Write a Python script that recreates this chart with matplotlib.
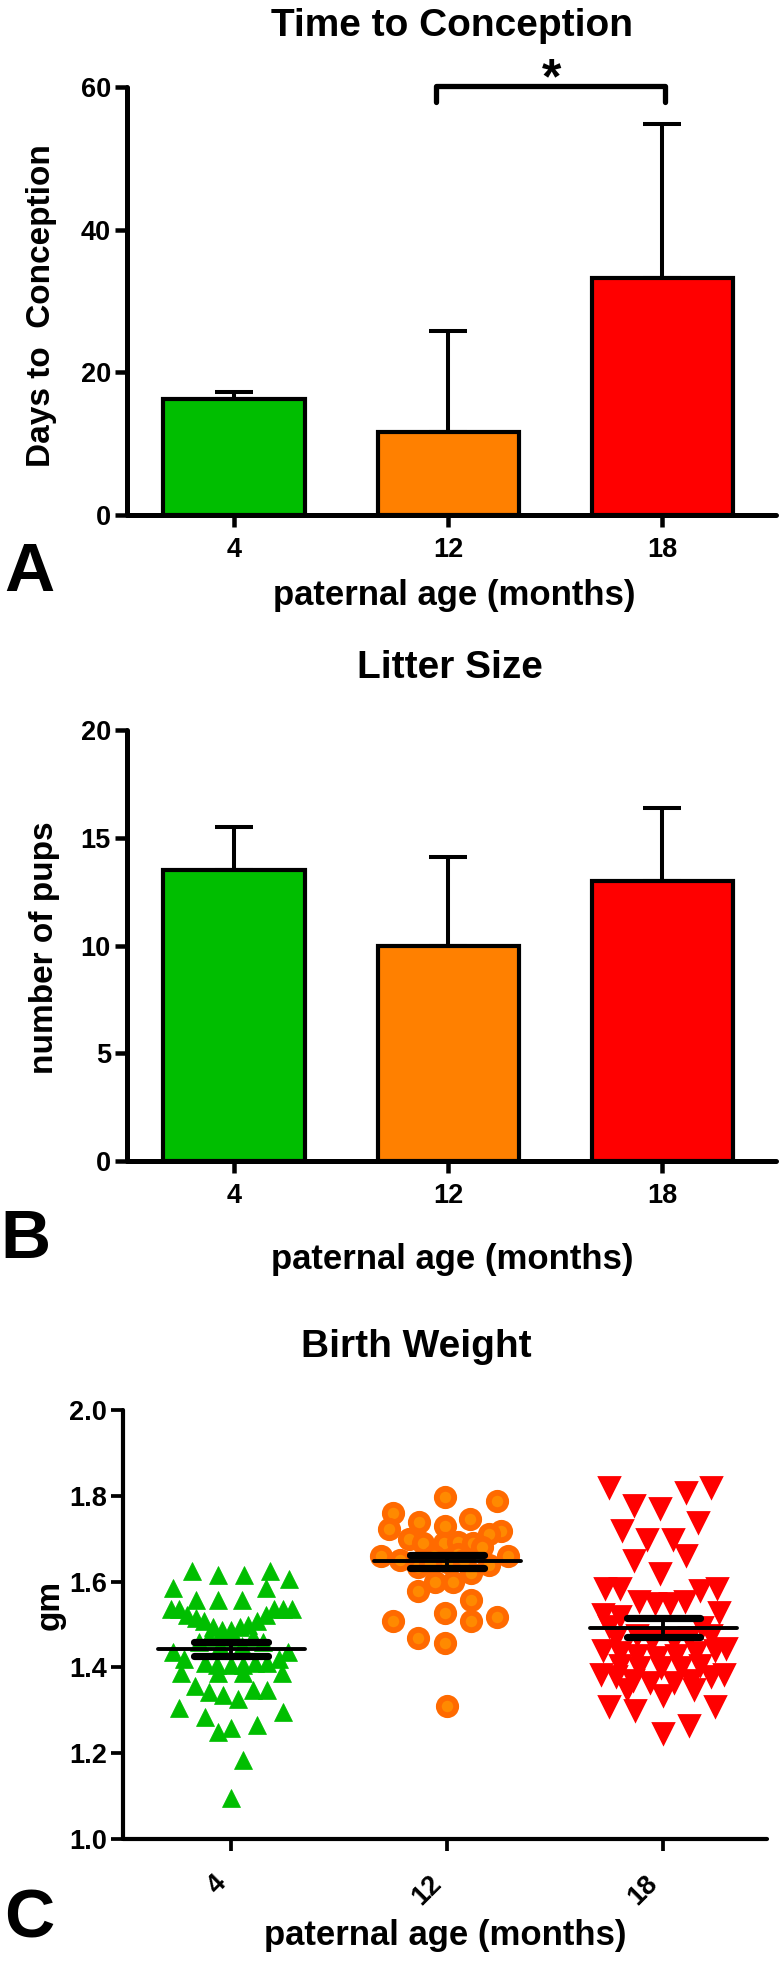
import matplotlib
matplotlib.use("Agg")
import matplotlib.pyplot as plt
import numpy as np

plt.rcParams['font.family'] = ['Liberation Sans', 'DejaVu Sans']
plt.rcParams['font.weight'] = 'bold'

# ---------------- data ----------------
categories = ["4", "12", "18"]
colors = ["#00BE00", "#FF8000", "#FF0000"]

# Panel A: time to conception (mean, upper SD)
ttc_mean = [16.3, 11.6, 33.2]
ttc_err = [0.9, 14.2, 21.6]

# Panel B: litter size
litter_mean = [13.5, 10.0, 13.0]
litter_err = [2.0, 4.1, 3.4]

# Panel C: birth weight (offset within category, value)
bw4_off = [-0.18, -0.06, 0.06, 0.18, 0.27, -0.27, 0.16, -0.16, -0.06, 0.05,
           -0.28, -0.24, 0.20, 0.24, 0.28, -0.205, -0.16, -0.125, -0.085, -0.043,
           0.0, 0.04, 0.08, 0.12, 0.16, -0.10, 0.0, 0.10, -0.05, 0.05,
           0.15, -0.15, -0.27, 0.265, -0.22, -0.12, -0.066, 0.0, 0.057, 0.11,
           0.165, 0.22, -0.23, -0.06, 0.057, 0.235, -0.167, -0.10, -0.036, 0.034,
           0.10, 0.165, -0.24, -0.12, 0.24, -0.06, 0.0, 0.12, 0.057, 0.0]
bw4_val = [1.625, 1.615, 1.615, 1.625, 1.606, 1.584, 1.584, 1.557, 1.556, 1.557,
           1.535, 1.535, 1.535, 1.535, 1.535, 1.522, 1.515, 1.507, 1.495, 1.487,
           1.487, 1.495, 1.500, 1.507, 1.522, 1.470, 1.470, 1.470, 1.450, 1.450,
           1.460, 1.460, 1.437, 1.437, 1.420, 1.410, 1.405, 1.405, 1.405, 1.410,
           1.410, 1.420, 1.386, 1.386, 1.386, 1.386, 1.357, 1.343, 1.336, 1.326,
           1.347, 1.347, 1.305, 1.285, 1.297, 1.250, 1.258, 1.266, 1.184, 1.095]

bw12_off = [-0.01, 0.23, -0.25, -0.13, 0.105, -0.01, -0.27, 0.25, 0.195, -0.176,
            -0.11, -0.014, 0.048, 0.12, -0.307, -0.22, 0.28, 0.195, -0.137, 0.11,
            -0.056, 0.028, -0.133, 0.11, -0.01, -0.25, 0.11, 0.23, -0.133, -0.01,
            0.0, -0.06, 0.05, 0.0, -0.08, 0.08, 0.16]
bw12_val = [1.798, 1.788, 1.759, 1.740, 1.747, 1.730, 1.722, 1.718, 1.711, 1.699,
            1.690, 1.690, 1.693, 1.690, 1.660, 1.650, 1.660, 1.639, 1.635, 1.619,
            1.600, 1.600, 1.579, 1.557, 1.527, 1.509, 1.507, 1.517, 1.468, 1.457,
            1.310, 1.660, 1.665, 1.645, 1.640, 1.650, 1.680]

bw18_off = [-0.253, 0.222, 0.105, -0.134, -0.014, 0.163, -0.19, -0.075, 0.045, 0.105,
            -0.134, -0.014,
            -0.27, -0.20, 0.17, 0.25, -0.11, -0.04, 0.03, 0.10,
            0.26, -0.28, -0.20, 0.18, -0.25,
            -0.22, -0.12, -0.05, 0.05, 0.12, 0.22,
            -0.28, -0.20, -0.12, -0.03, 0.06, 0.15, 0.24, 0.29,
            -0.20, -0.11, -0.01, 0.08, 0.17,
            -0.29, -0.22, -0.14, -0.06, 0.05, 0.13, 0.22, 0.28,
            -0.17, 0.0, 0.14, -0.25, -0.13, 0.24, 0.12, 0.0]
bw18_val = [1.821, 1.821, 1.810, 1.779, 1.771, 1.740, 1.720, 1.700, 1.700, 1.662,
            1.650, 1.619,
            1.585, 1.585, 1.580, 1.585, 1.555, 1.550, 1.550, 1.555,
            1.530, 1.525, 1.520, 1.495, 1.497,
            1.470, 1.475, 1.465, 1.465, 1.470, 1.475,
            1.440, 1.435, 1.430, 1.425, 1.430, 1.435, 1.440, 1.445,
            1.405, 1.400, 1.400, 1.400, 1.405,
            1.385, 1.380, 1.370, 1.365, 1.365, 1.370, 1.380, 1.385,
            1.350, 1.335, 1.350, 1.310, 1.300, 1.310, 1.265, 1.246]

bw_mean = [1.443, 1.647, 1.493]
bw_sem = [0.017, 0.016, 0.021]

# ---------------- figure ----------------
W, H = 780, 1962
fig = plt.figure(figsize=(W / 100, H / 100), dpi=100)


def ax_px(left, right, top, bottom):
    return fig.add_axes([left / W, 1 - bottom / H, (right - left) / W, (bottom - top) / H])


def txt(x, y, s, size, rot=0, ha='center', va='center'):
    fig.text(x / W, 1 - y / H, s, fontsize=size, fontweight='bold', rotation=rot,
             ha=ha, va=va, color='black')


def style(ax, lw=3.6):
    for s in ['top', 'right']:
        ax.spines[s].set_visible(False)
    for s in ['left', 'bottom']:
        ax.spines[s].set_linewidth(lw)
        ax.spines[s].set_capstyle('round')
    ax.tick_params(axis='both', length=8.6, width=lw * 0.9, labelsize=19.5)
    ax.tick_params(axis='y', pad=3)
    ax.tick_params(axis='x', pad=7)
    for lab in ax.get_xticklabels() + ax.get_yticklabels():
        lab.set_fontweight('bold')


x = np.arange(len(categories))


def bar_panel(ax, means, errs, ymax, step):
    ax.bar(x, means, width=0.66, color=colors, edgecolor='black', linewidth=3.0, zorder=2)
    ax.errorbar(x, means, yerr=[np.zeros(len(errs)), errs], fmt='none', ecolor='black',
                elinewidth=2.9, capsize=14, capthick=2.9, zorder=1)
    ax.set_xlim(-0.5, 2.53)
    ax.set_ylim(0, ymax)
    ax.set_yticks(np.arange(0, ymax + 0.1, step))
    ax.set_xticks(x)
    ax.set_xticklabels(categories)
    style(ax)


# Panel A
axA = ax_px(127, 776, 87, 515)
bar_panel(axA, ttc_mean, ttc_err, 60, 20)
axA.plot([0.944, 0.944, 2.01, 2.01], [57.9, 60.2, 60.2, 57.9], color='black', lw=3.8,
         solid_capstyle='round', solid_joinstyle='round', clip_on=False)
axA.text(1.48, 61.0, '*', fontsize=36, fontweight='bold', ha='center', va='center')
txt(452, 26, 'Time to Conception', 28)
txt(42, 306, 'Days to  Conception', 24, rot=90)
txt(454, 596, 'paternal age (months)', 25)
txt(29, 573, 'A', 50)

# Panel B
axB = ax_px(127, 776, 730, 1161)
bar_panel(axB, litter_mean, litter_err, 20, 5)
txt(450, 668, 'Litter Size', 28)
txt(45, 948, 'number of pups', 24, rot=90)
txt(452, 1260, 'paternal age (months)', 25)
txt(25, 1240, 'B', 50)

# Panel C
axC = ax_px(123, 767, 1410, 1839)
axC.plot(0 + np.array(bw4_off), bw4_val, linestyle='none', marker='^', ms=12.5,
         color='#00BE00', mec='#00BE00', mew=0.5, zorder=2)
axC.plot(1 + np.array(bw12_off), bw12_val, linestyle='none', marker='o', ms=12.5,
         mfc='#FF8A00', mec='#FF6A00', mew=4.2, zorder=2)
axC.plot(2 + np.array(bw18_off), bw18_val, linestyle='none', marker='v', ms=14.5,
         color='#FF0000', mec='#FF0000', mew=2.0, zorder=2)
for i in range(3):
    m, s = bw_mean[i], bw_sem[i]
    axC.plot([i - 0.34, i + 0.34], [m, m], color='black', lw=2.8, solid_capstyle='round', zorder=4)
    for v in (m - s, m + s):
        axC.plot([i - 0.17, i + 0.17], [v, v], color='black', lw=5.2, solid_capstyle='round', zorder=4)
    axC.plot([i, i], [m - s, m + s], color='black', lw=2.8, zorder=4)
axC.set_xlim(-0.5, 2.48)
axC.set_ylim(1.0, 2.0)
axC.set_yticks(np.arange(1.0, 2.01, 0.2))
axC.set_yticklabels([f"{v:.1f}" for v in np.arange(1.0, 2.01, 0.2)])
axC.set_xticks(x)
axC.set_xticklabels(categories, rotation=45, ha='right', va='top')
style(axC, lw=3.0)
axC.tick_params(axis='x', pad=14)
txt(416, 1347, 'Birth Weight', 28)
txt(50, 1605, 'gm', 24, rot=90)
txt(445, 1936, 'paternal age (months)', 25)
txt(29, 1920, 'C', 50)

fig.savefig('out.png', dpi=100)
